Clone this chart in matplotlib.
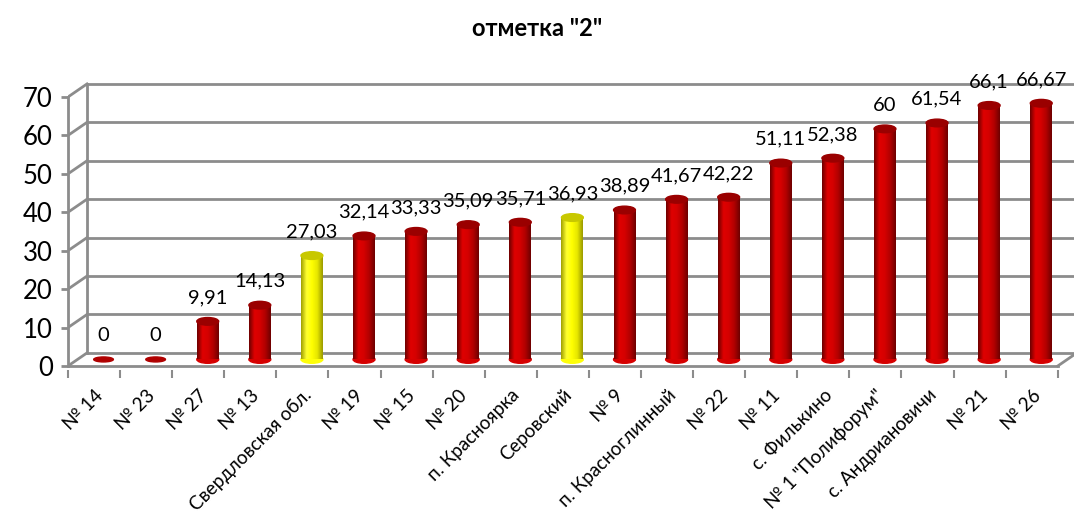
import numpy as np
import matplotlib.pyplot as plt
from matplotlib.patches import Ellipse
from matplotlib.colors import LinearSegmentedColormap

plt.rcParams['font.family'] = ['Lato', 'DejaVu Sans']

# data
categories = ['№ 14', '№ 23', '№ 27', '№ 13', 'Свердловская обл.', '№ 19', '№ 15',
              '№ 20', 'п. Красноярка', 'Серовский', '№ 9', 'п. Красноглинный',
              '№ 22', '№ 11', 'с. Филькино', '№ 1 "Полифорум"', 'с. Андриановичи',
              '№ 21', '№ 26']
values = [0, 0, 9.91, 14.13, 27.03, 32.14, 33.33, 35.09, 35.71, 36.93, 38.89,
          41.67, 42.22, 51.11, 52.38, 60, 61.54, 66.1, 66.67]
labels = ['0', '0', '9,91', '14,13', '27,03', '32,14', '33,33', '35,09', '35,71',
          '36,93', '38,89', '41,67', '42,22', '51,11', '52,38', '60', '61,54',
          '66,1', '66,67']
highlight = ['Свердловская обл.', 'Серовский']
yticks = [0, 10, 20, 30, 40, 50, 60, 70]

# pseudo-3d depth offset (x in category units, y in value units)
DX, DY = 0.365, 3.4
BW = 0.42
GRID = '#8c8c8c'

red_cm = LinearSegmentedColormap.from_list('r', ['#6e0000', '#e00000', '#d40000', '#b00000', '#6e0000'])
yel_cm = LinearSegmentedColormap.from_list('y', ['#a0a000', '#ffff30', '#ffff00', '#e6e600', '#9a9a00'])

fig = plt.figure(figsize=(10.74, 5.13), dpi=100)
ax = fig.add_axes([0.0633, 0.2791, 0.941, 0.5618])

n = len(categories)

# back wall grid and floor
for v in yticks:
    ax.plot([0, DX], [v, v + DY], color=GRID, lw=2, zorder=1)
    ax.plot([DX, n + DX], [v + DY, v + DY], color=GRID, lw=2, zorder=1)
ax.plot([DX, DX], [DY, 70 + DY], color=GRID, lw=2, zorder=1)
ax.plot([0, n], [0, 0], color=GRID, lw=2, zorder=1)
ax.plot([n, n + DX], [0, DY], color=GRID, lw=2, zorder=1)

grad = np.linspace(0, 1, 64).reshape(1, -1)
for i, (cat, v, lab) in enumerate(zip(categories, values, labels)):
    cm = yel_cm if cat in highlight else red_cm
    dark = '#c8c800' if cat in highlight else '#9a0000'
    xc = i + 0.5 + DX / 2
    y0 = DY / 2
    if v > 0:
        ax.add_patch(Ellipse((xc, y0), BW, 2.0, color=cm(0.45), zorder=3))
        ax.imshow(grad, cmap=cm, extent=[xc - BW / 2, xc + BW / 2, y0, y0 + v],
                  aspect='auto', zorder=4, interpolation='bilinear')
        ax.add_patch(Ellipse((xc, y0 + v), BW, 2.0, color=dark, zorder=5))
    else:
        ax.add_patch(Ellipse((xc, y0), BW * 0.9, 1.3, color='#b00000', zorder=3))
    ax.annotate(lab, (xc, y0 + v), xytext=(0, 11), textcoords='offset points',
                ha='center', va='bottom', fontsize=14.5, zorder=6)

ax.set_xlim(0, 19.4)
ax.set_ylim(-1, 74)

# axes: front y axis and category ticks
for s in ['top', 'right', 'bottom']:
    ax.spines[s].set_visible(False)
ax.spines['left'].set_bounds(0, 70)
ax.spines['left'].set_color(GRID)
ax.spines['left'].set_linewidth(2)
ax.set_yticks(yticks)
ax.set_yticklabels([str(t) for t in yticks], fontsize=18.5)
ax.tick_params(axis='y', color=GRID, width=2, length=5, pad=6)

ax.set_xticks(np.arange(n) + 0.5)
ax.set_xticklabels(categories, rotation=45, ha='right', rotation_mode='anchor', fontsize=13.5)
ax.set_xticks(np.arange(n + 1), minor=True)
ax.tick_params(axis='x', which='major', length=0, pad=12)
ax.tick_params(axis='x', which='minor', color=GRID, width=1.5, length=6)
ax.patch.set_visible(False)

fig.text(0.5, 0.945, 'отметка "2"', ha='center', va='center', fontsize=17, fontweight='bold')

fig.savefig('out.png', dpi=100)
